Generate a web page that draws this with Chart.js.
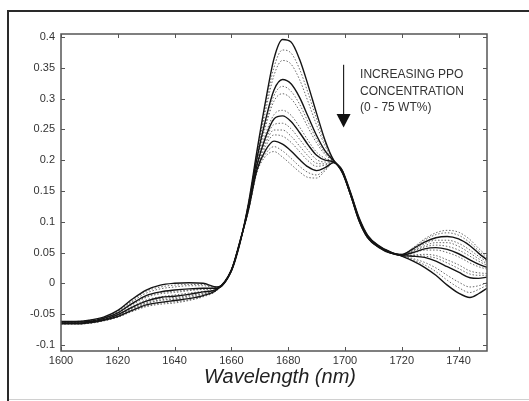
<!DOCTYPE html>
<html>
<head>
<meta charset="utf-8">
<script src="https://cdn.jsdelivr.net/npm/chart.js@4.4.1/dist/chart.umd.min.js"></script>
<style>
html,body{margin:0;padding:0;background:#fff;}
#wrap{position:relative;width:529px;height:401px;}
</style>
</head>
<body>
<div id="wrap"><canvas id="c"></canvas></div>
<script>
// Wavelength grid (nm)
const wavelengths = [1600,1605,1610,1615,1620,1625,1630,1635,1640,1645,1650,1655,1660,1663,1666,1669,1672,1675,1678,1681,1684,1687,1690,1693,1696,1699,1702,1705,1708,1712,1716,1720,1724,1728,1732,1736,1740,1744,1747,1750];

// Absorbance spectra, 0 -> 75 wt% PPO
const series0  = [-0.062,-0.062,-0.060,-0.055,-0.044,-0.026,-0.011,-0.003,0.000,0.001,0.000,-0.006,0.020,0.065,0.130,0.215,0.295,0.365,0.396,0.392,0.364,0.322,0.276,0.232,0.200,0.184,0.147,0.106,0.078,0.061,0.051,0.044,0.036,0.026,0.013,-0.003,-0.016,-0.023,-0.017,-0.008];
const series1  = [-0.062,-0.062,-0.060,-0.056,-0.045,-0.028,-0.013,-0.006,-0.003,-0.002,-0.002,-0.006,0.020,0.065,0.129,0.212,0.287,0.351,0.379,0.374,0.348,0.309,0.267,0.228,0.200,0.184,0.147,0.105,0.078,0.061,0.051,0.044,0.038,0.030,0.019,0.005,-0.007,-0.015,-0.010,-0.003];
const series2  = [-0.063,-0.063,-0.061,-0.056,-0.046,-0.030,-0.016,-0.009,-0.006,-0.004,-0.004,-0.007,0.020,0.066,0.128,0.209,0.279,0.338,0.362,0.356,0.331,0.295,0.257,0.223,0.199,0.183,0.146,0.105,0.077,0.060,0.051,0.045,0.040,0.034,0.025,0.013,0.002,-0.006,-0.004,0.001];
const series3  = [-0.063,-0.063,-0.062,-0.057,-0.048,-0.033,-0.020,-0.014,-0.011,-0.009,-0.008,-0.008,0.021,0.066,0.126,0.203,0.265,0.314,0.331,0.324,0.302,0.271,0.240,0.215,0.199,0.183,0.145,0.104,0.076,0.060,0.050,0.045,0.044,0.042,0.036,0.027,0.018,0.009,0.008,0.010];
const series4  = [-0.064,-0.064,-0.062,-0.057,-0.048,-0.034,-0.022,-0.015,-0.013,-0.011,-0.009,-0.008,0.021,0.066,0.125,0.201,0.259,0.305,0.320,0.312,0.291,0.262,0.234,0.212,0.198,0.182,0.145,0.104,0.076,0.060,0.050,0.045,0.045,0.044,0.041,0.033,0.024,0.015,0.013,0.013];
const series5  = [-0.064,-0.064,-0.062,-0.058,-0.049,-0.035,-0.023,-0.017,-0.015,-0.012,-0.010,-0.008,0.021,0.066,0.124,0.199,0.254,0.296,0.308,0.300,0.280,0.253,0.228,0.209,0.198,0.182,0.145,0.103,0.076,0.060,0.050,0.045,0.046,0.047,0.045,0.038,0.030,0.020,0.017,0.016];
const series6  = [-0.064,-0.064,-0.063,-0.059,-0.051,-0.038,-0.027,-0.022,-0.019,-0.016,-0.013,-0.009,0.021,0.067,0.123,0.194,0.242,0.274,0.281,0.273,0.254,0.232,0.213,0.203,0.198,0.182,0.144,0.102,0.075,0.059,0.050,0.046,0.049,0.054,0.054,0.050,0.043,0.033,0.027,0.023];
const series7  = [-0.065,-0.065,-0.063,-0.059,-0.051,-0.039,-0.029,-0.023,-0.021,-0.018,-0.014,-0.009,0.021,0.067,0.122,0.192,0.237,0.267,0.272,0.263,0.245,0.225,0.208,0.200,0.197,0.181,0.144,0.102,0.075,0.059,0.050,0.046,0.050,0.056,0.058,0.055,0.048,0.038,0.031,0.026];
const series8  = [-0.065,-0.065,-0.064,-0.059,-0.052,-0.040,-0.030,-0.025,-0.023,-0.020,-0.016,-0.010,0.021,0.067,0.121,0.190,0.232,0.258,0.260,0.251,0.234,0.216,0.201,0.197,0.197,0.181,0.143,0.102,0.074,0.059,0.050,0.046,0.052,0.059,0.062,0.060,0.054,0.044,0.036,0.029];
const series9  = [-0.065,-0.065,-0.064,-0.060,-0.053,-0.041,-0.032,-0.027,-0.025,-0.021,-0.017,-0.010,0.022,0.067,0.121,0.188,0.227,0.249,0.249,0.239,0.223,0.207,0.195,0.194,0.197,0.181,0.143,0.101,0.074,0.059,0.049,0.046,0.053,0.061,0.066,0.066,0.060,0.049,0.040,0.032];
const series10 = [-0.065,-0.065,-0.064,-0.060,-0.053,-0.042,-0.033,-0.028,-0.026,-0.023,-0.018,-0.010,0.022,0.067,0.120,0.186,0.222,0.241,0.239,0.229,0.214,0.199,0.190,0.192,0.197,0.181,0.143,0.101,0.074,0.059,0.049,0.046,0.054,0.064,0.070,0.070,0.065,0.054,0.044,0.035];
const series11 = [-0.066,-0.066,-0.064,-0.060,-0.054,-0.044,-0.035,-0.031,-0.028,-0.025,-0.020,-0.010,0.022,0.068,0.119,0.184,0.216,0.231,0.226,0.215,0.201,0.189,0.183,0.188,0.196,0.180,0.143,0.101,0.074,0.058,0.049,0.047,0.056,0.067,0.074,0.076,0.072,0.061,0.049,0.038];
const series12 = [-0.066,-0.066,-0.065,-0.061,-0.055,-0.045,-0.037,-0.032,-0.030,-0.027,-0.021,-0.011,0.022,0.068,0.119,0.182,0.210,0.222,0.215,0.203,0.190,0.180,0.176,0.185,0.196,0.180,0.142,0.100,0.073,0.058,0.049,0.047,0.057,0.070,0.079,0.082,0.078,0.066,0.053,0.041];
const series13 = [-0.066,-0.066,-0.065,-0.061,-0.055,-0.046,-0.038,-0.034,-0.032,-0.028,-0.022,-0.011,0.022,0.068,0.118,0.180,0.206,0.214,0.205,0.193,0.181,0.172,0.171,0.183,0.196,0.180,0.142,0.100,0.073,0.058,0.049,0.047,0.058,0.072,0.082,0.086,0.083,0.071,0.057,0.044];

// Tick values and labels
const xTickValues = [1600,1620,1640,1660,1680,1700,1720,1740];
const xTickLabels = ["1600","1620","1640","1660","1680","1700","1720","1740"];
const yTickValues = [-0.1,-0.05,0,0.05,0.1,0.15,0.2,0.25,0.3,0.35,0.4];
const yTickLabels = ["-0.1","-0.05","0","0.05","0.1","0.15","0.2","0.25","0.3","0.35","0.4"];

// Text
const xAxisTitle = "Wavelength (nm)";
const noteLines = ["INCREASING PPO","CONCENTRATION","(0 - 75 WT%)"];

const allSeries = [series0,series1,series2,series3,series4,series5,series6,series7,series8,series9,series10,series11,series12,series13];
const solidIdx = [0,3,7,11];

const datasets = allSeries.map((s,i)=>{
  const solid = solidIdx.includes(i);
  return {
    label: 'S'+i,
    data: s.map((v,k)=>({x: wavelengths[k], y: v})),
    borderColor: solid ? '#141414' : '#6a6a6a',
    borderWidth: solid ? 1.4 : 1,
    borderDash: solid ? [] : [1.5,1.8],
    pointRadius: 0,
    fill: false,
    cubicInterpolationMode: 'monotone',
    order: solid ? 0 : 1
  };
});

const decor = {
  id: 'decor',
  beforeDraw(chart){
    const ctx = chart.ctx;
    ctx.save();
    ctx.fillStyle = '#fff';
    ctx.fillRect(0,0,chart.width,chart.height);
    // outer frame
    ctx.strokeStyle = '#2a2a2a';
    ctx.lineWidth = 2;
    ctx.beginPath();
    ctx.moveTo(8, 401); ctx.lineTo(8, 11); ctx.lineTo(529, 11);
    ctx.stroke();
    ctx.strokeStyle = '#d0d0d0';
    ctx.lineWidth = 1;
    ctx.beginPath();
    ctx.moveTo(9, 399.5); ctx.lineTo(529, 399.5);
    ctx.stroke();
    ctx.restore();
  },
  afterDatasetsDraw(chart){
    const ctx = chart.ctx;
    const a = chart.chartArea;
    const xs = chart.scales.x, ys = chart.scales.y;
    ctx.save();
    // box
    ctx.strokeStyle = '#555';
    ctx.lineWidth = 1.5;
    ctx.strokeRect(a.left, a.top, a.right - a.left, a.bottom - a.top);
    // inward ticks
    ctx.lineWidth = 1;
    ctx.strokeStyle = '#555';
    ctx.beginPath();
    xTickValues.forEach(v=>{
      const p = Math.round(xs.getPixelForValue(v)) + 0.5;
      ctx.moveTo(p, a.bottom); ctx.lineTo(p, a.bottom - 4);
      ctx.moveTo(p, a.top); ctx.lineTo(p, a.top + 4);
    });
    yTickValues.forEach(v=>{
      const p = Math.round(ys.getPixelForValue(v)) + 0.5;
      ctx.moveTo(a.left, p); ctx.lineTo(a.left + 4, p);
      ctx.moveTo(a.right, p); ctx.lineTo(a.right - 4, p);
    });
    ctx.stroke();
    // annotation arrow
    const ax = xs.getPixelForValue(1699.5);
    const yTop = ys.getPixelForValue(0.355);
    const yHead = ys.getPixelForValue(0.275);
    const yTip = ys.getPixelForValue(0.253);
    ctx.strokeStyle = '#222';
    ctx.lineWidth = 1.2;
    ctx.beginPath();
    ctx.moveTo(ax, yTop); ctx.lineTo(ax, yHead + 1);
    ctx.stroke();
    ctx.fillStyle = '#111';
    ctx.beginPath();
    ctx.moveTo(ax - 7, yHead); ctx.lineTo(ax + 7, yHead); ctx.lineTo(ax, yTip);
    ctx.closePath(); ctx.fill();
    // annotation text
    ctx.fillStyle = '#333';
    ctx.font = '12px "Liberation Sans", Arial, sans-serif';
    ctx.textAlign = 'left';
    ctx.textBaseline = 'middle';
    const tx = xs.getPixelForValue(1705.3);
    noteLines.forEach((t,i)=>{
      ctx.fillText(t, tx, 75 + i*16.5);
    });
    // x-axis title
    ctx.fillStyle = '#222';
    ctx.font = 'italic 20px "Liberation Sans", Arial, sans-serif';
    ctx.textAlign = 'center';
    ctx.fillText(xAxisTitle, 280, 377);
    ctx.restore();
  }
};

new Chart(document.getElementById('c'), {
  type: 'line',
  data: { datasets },
  options: {
    responsive: true,
    maintainAspectRatio: false,
    animation: false,
    layout: { padding: { left: 0, top: 34, right: 42, bottom: 0 } },
    plugins: { legend: { display: false }, tooltip: { enabled: false } },
    scales: {
      x: {
        type: 'linear',
        min: 1600, max: 1750,
        grid: { display: false, drawTicks: false },
        border: { display: false },
        afterBuildTicks: s => { s.ticks = xTickValues.map(v=>({value: v})); },
        afterFit: s => { s.height = 50; },
        ticks: {
          padding: 3,
          color: '#333',
          font: { family: '"Liberation Sans", Arial, sans-serif', size: 11 },
          maxRotation: 0,
          callback: (v) => { const i = xTickValues.indexOf(v); return i >= 0 ? xTickLabels[i] : ''; }
        }
      },
      y: {
        type: 'linear',
        min: -0.11, max: 0.405,
        grid: { display: false, drawTicks: false },
        border: { display: false },
        afterBuildTicks: s => { s.ticks = yTickValues.map(v=>({value: v})); },
        afterFit: s => { s.width = 61; },
        ticks: {
          padding: 6,
          color: '#333',
          font: { family: '"Liberation Sans", Arial, sans-serif', size: 11 },
          callback: (v) => { const i = yTickValues.findIndex(t => Math.abs(t - v) < 1e-9); return i >= 0 ? yTickLabels[i] : ''; }
        }
      }
    }
  },
  plugins: [decor]
});
</script>
</body>
</html>
